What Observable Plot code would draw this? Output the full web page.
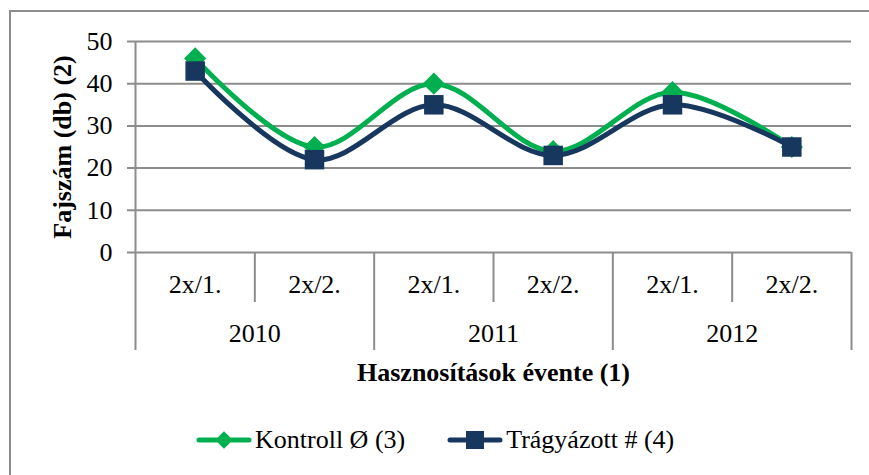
<!DOCTYPE html>
<html>
<head>
<meta charset="utf-8">
<script src="https://cdn.jsdelivr.net/npm/d3@7"></script>
<script src="https://cdn.jsdelivr.net/npm/@observablehq/plot@0.6"></script>
<style>
  html, body { margin: 0; padding: 0; background: #fff; }
  #wrap { position: relative; width: 869px; height: 475px; overflow: hidden; font-family: "Liberation Serif", "Times New Roman", serif; }
  #frame { position: absolute; left: 9px; top: 10px; width: 900px; height: 500px; border: 2px solid #8c8c8c; box-sizing: border-box; }
  #chart { position: absolute; left: 0; top: 0; }
  #legend { position: absolute; left: 196px; top: 425px; display: flex; align-items: center; font-size: 26px; color: #000; white-space: nowrap; }
  #legend .item { display: flex; align-items: center; margin-right: 42px; }
  #legend svg { display: block; margin-right: 3px; }
</style>
</head>
<body>
<div id="wrap">
  <div id="frame"></div>
  <div id="chart"></div>
  <div id="legend"></div>
</div>
<script>
// ---- data ----
const years = ["2010", "2011", "2012"];
const cuts = ["2x/1.", "2x/2.", "2x/1.", "2x/2.", "2x/1.", "2x/2."];
const kontroll = [46, 25, 40, 24, 38, 25];
const tragyazott = [43, 22, 35, 23, 35, 25];
const yTicks = [0, 10, 20, 30, 40, 50];
const seriesNames = ["Kontroll Ø (3)", "Trágyázott # (4)"];
const seriesColors = ["#00B050", "#17375E"];
const yTitle = "Fajszám (db) (2)";
const xTitle = "Hasznosítások évente (1)";

// ---- derived tables ----
const rowsK = kontroll.map((v, i) => ({i: i + 0.5, v}));
const rowsT = tragyazott.map((v, i) => ({i: i + 0.5, v}));
const cutPos = cuts.map((c, i) => ({i: i + 0.5, c}));
const yearPos = years.map((y, j) => ({i: j * 2 + 1, y}));
const innerDiv = years.map((y, j) => j * 2 + 1);
const yearDiv = d3.range(1, years.length + 1).map(j => j * 2);

const grid = "#8c8c8c";
const font = "'Liberation Serif', 'Times New Roman', serif";

const chart = Plot.plot({
  width: 869,
  height: 400,
  marginLeft: 135,
  marginRight: 18,
  marginTop: 41,
  marginBottom: 148,
  style: {fontFamily: font, background: "transparent", overflow: "visible"},
  x: {domain: [0, cuts.length], axis: null},
  y: {domain: [0, 50], axis: null},
  marks: [
    // horizontal gridlines with left ticks
    Plot.ruleY(yTicks, {stroke: grid, strokeWidth: 2, insetLeft: -8}),
    // y axis line continuing down as first year divider
    Plot.ruleX([0], {stroke: grid, strokeWidth: 2, insetBottom: -98}),
    // year dividers below axis
    Plot.ruleX(yearDiv, {y1: 0, y2: 0, stroke: grid, strokeWidth: 2, insetBottom: -98}),
    // inner dividers below axis
    Plot.ruleX(innerDiv, {y1: 0, y2: 0, stroke: grid, strokeWidth: 2, insetBottom: -50}),
    // y tick labels
    Plot.text(yTicks, {y: d => d, frameAnchor: "left", dx: -23, textAnchor: "end", text: d => String(d), fontSize: 26, fill: "#000"}),
    // category labels
    Plot.text(cutPos, {x: "i", text: "c", frameAnchor: "bottom", dy: 40, fontSize: 26, fill: "#000"}),
    Plot.text(yearPos, {x: "i", text: "y", frameAnchor: "bottom", dy: 89, fontSize: 26, fill: "#000"}),
    // axis titles
    Plot.text([xTitle], {frameAnchor: "bottom", textAnchor: "middle", dy: 128, fontSize: 26, fontWeight: "bold", fill: "#000"}),
    Plot.text([yTitle], {frameAnchor: "left", textAnchor: "middle", dx: -73, rotate: -90, fontSize: 26, fontWeight: "bold", fill: "#000"}),
    // series
    Plot.line(rowsK, {x: "i", y: "v", stroke: seriesColors[0], strokeWidth: 5, curve: "catmull-rom"}),
    Plot.dot(rowsK, {x: "i", y: "v", symbol: "diamond2", r: 10, fill: seriesColors[0], stroke: null}),
    Plot.line(rowsT, {x: "i", y: "v", stroke: seriesColors[1], strokeWidth: 5, curve: "catmull-rom"}),
    Plot.dot(rowsT, {x: "i", y: "v", symbol: "square", r: 11, fill: seriesColors[1], stroke: null})
  ]
});
document.getElementById("chart").appendChild(chart);

// ---- legend ----
const legend = d3.select("#legend");
seriesNames.forEach((name, k) => {
  const item = legend.append("div").attr("class", "item");
  const s = item.append("svg").attr("width", 56).attr("height", 24);
  s.append("line").attr("x1", 3).attr("x2", 53).attr("y1", 12).attr("y2", 12)
    .attr("stroke", seriesColors[k]).attr("stroke-width", 5).attr("stroke-linecap", "round");
  if (k === 0) {
    s.append("path").attr("d", d3.symbol(d3.symbolDiamond2, 200)()).attr("transform", "translate(28,12)").attr("fill", seriesColors[k]);
  } else {
    s.append("rect").attr("x", 19).attr("y", 3).attr("width", 18).attr("height", 18).attr("fill", seriesColors[k]);
  }
  item.append("span").text(name);
});
</script>
</body>
</html>
